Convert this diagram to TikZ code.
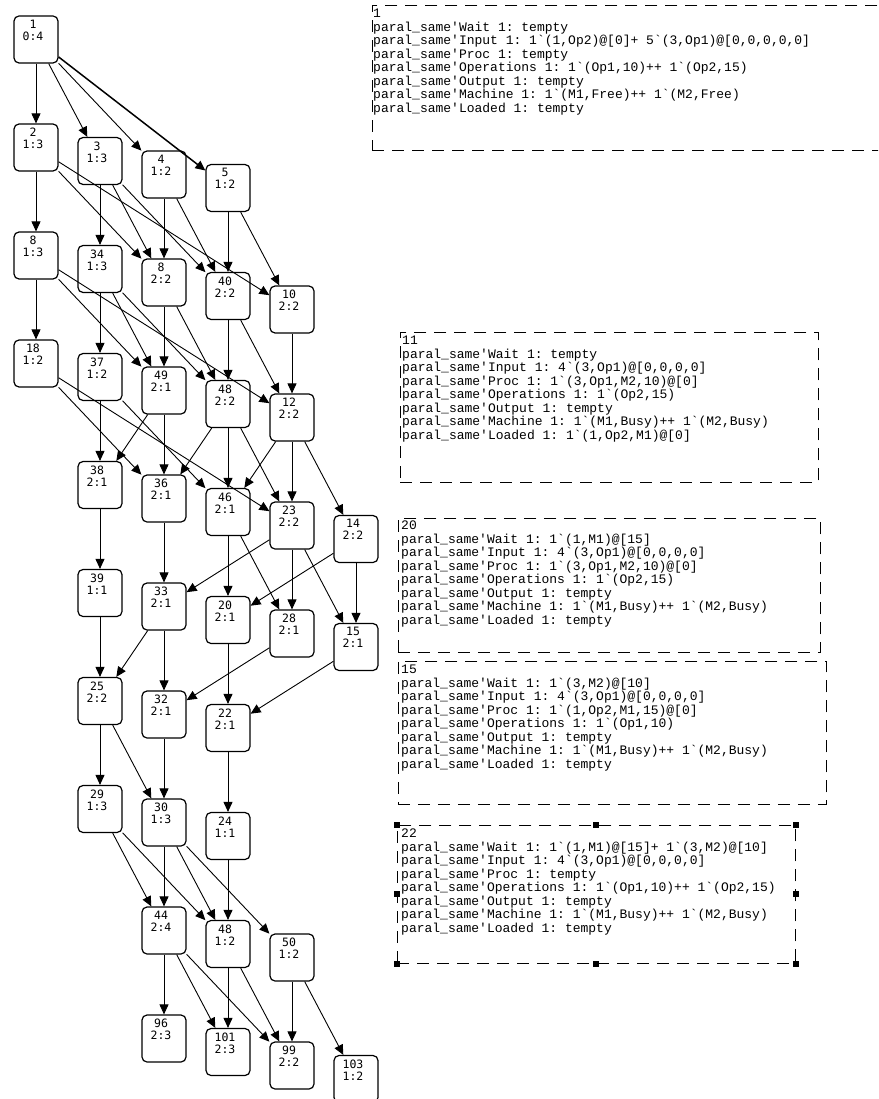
\documentclass[tikz,border=0pt]{standalone}
\usepackage{fontspec}
\setmonofont{Liberation Mono}
\newfontfamily\labfont{DejaVu Sans Mono}
\usetikzlibrary{arrows.meta}
\tikzset{
 st/.style={draw, line width=1.2pt, rounded corners=5pt, minimum width=44pt, minimum height=47pt, inner sep=0pt},
 lab/.style={anchor=north, xshift=-3pt, yshift=-4.5pt, align=center, inner sep=0pt, font=\labfont\fontsize{11.5}{12}\selectfont},
 ed/.style={-{Triangle[length=10pt,width=9pt]}, line width=0.9pt},
 infobox/.style={draw, dash pattern=on 12pt off 8pt, line width=0.9pt, anchor=north west, inner sep=0pt},
 infotext/.style={anchor=north west, align=left, inner sep=0pt, font=\ttfamily\fontsize{13}{13.5}\selectfont},
 handle/.style={fill=black, minimum size=6pt, inner sep=0pt}
}
\newcommand\stnode[5]{\node[st, label={[lab]north:{#4\\#5}}] (#1) at ({36+64*#2},{39.5+108*#3+13.5*#2}) {};}
\begin{document}
\begin{tikzpicture}[x=1pt,y=-1pt]
\useasboundingbox (0,0) rectangle (878,1099);
\clip (0,0) rectangle (878,1099);
% states: name, col, row, number, label
\stnode{n1}{0}{0}{1}{0:4}
\stnode{n2}{0}{1}{2}{1:3}
\stnode{n3}{1}{1}{3}{1:3}
\stnode{n4}{2}{1}{4}{1:2}
\stnode{n5}{3}{1}{5}{1:2}
\stnode{n8}{0}{2}{8}{1:3}
\stnode{n34}{1}{2}{34}{1:3}
\stnode{n6}{2}{2}{8}{2:2}
\stnode{n40}{3}{2}{40}{2:2}
\stnode{n10}{4}{2}{10}{2:2}
\stnode{n18}{0}{3}{18}{1:2}
\stnode{n37}{1}{3}{37}{1:2}
\stnode{n49}{2}{3}{49}{2:1}
\stnode{n48a}{3}{3}{48}{2:2}
\stnode{n12}{4}{3}{12}{2:2}
\stnode{n38}{1}{4}{38}{2:1}
\stnode{n36}{2}{4}{36}{2:1}
\stnode{n46}{3}{4}{46}{2:1}
\stnode{n23}{4}{4}{23}{2:2}
\stnode{n14}{5}{4}{14}{2:2}
\stnode{n39}{1}{5}{39}{1:1}
\stnode{n33}{2}{5}{33}{2:1}
\stnode{n20}{3}{5}{20}{2:1}
\stnode{n28}{4}{5}{28}{2:1}
\stnode{n15}{5}{5}{15}{2:1}
\stnode{n25}{1}{6}{25}{2:2}
\stnode{n32}{2}{6}{32}{2:1}
\stnode{n22}{3}{6}{22}{2:1}
\stnode{n29}{1}{7}{29}{1:3}
\stnode{n30}{2}{7}{30}{1:3}
\stnode{n24}{3}{7}{24}{1:1}
\stnode{n44}{2}{8}{44}{2:4}
\stnode{n48b}{3}{8}{48}{1:2}
\stnode{n50}{4}{8}{50}{1:2}
\stnode{n96}{2}{9}{96}{2:3}
\stnode{n101}{3}{9}{101}{2:3}
\stnode{n99}{4}{9}{99}{2:2}
\stnode{n103}{5}{9}{103}{1:2}
% arcs
\foreach \a/\b in {n1/n2,n1/n3,n1/n4,
 n2/n8,n2/n6,n2/n10,n3/n34,n3/n6,n3/n40,n4/n6,n4/n40,n5/n40,n5/n10,
 n8/n18,n8/n49,n8/n12,n34/n37,n34/n49,n34/n48a,n6/n49,n6/n48a,n40/n48a,n40/n12,n10/n12,
 n18/n36,n18/n23,n37/n38,n37/n46,n49/n38,n49/n36,n48a/n36,n48a/n46,n48a/n23,n12/n46,n12/n23,n12/n14,
 n38/n39,n36/n33,n46/n20,n46/n28,n23/n33,n23/n28,n23/n15,n14/n20,n14/n15,
 n39/n25,n33/n25,n33/n32,n20/n22,n28/n32,n15/n22,
 n25/n29,n25/n30,n32/n30,n22/n24,
 n29/n44,n29/n48b,n30/n44,n30/n48b,n30/n50,n24/n48b,
 n44/n96,n44/n101,n44/n99,n48b/n101,n48b/n99,n50/n99,n50/n103}
 {\draw[ed] (\a) -- (\b);}
\draw[ed, line width=1.5pt] (n1) -- (n5);
% info boxes
\node[infobox, minimum width=520pt, minimum height=145pt] (b1) at (372,5) {};
\node[infotext] (t1) at (373,9) {1\\
paral\_same'Wait 1: tempty\\
paral\_same'Input 1: 1`(1,Op2)@[0]+ 5`(3,Op1)@[0,0,0,0,0]\\
paral\_same'Proc 1: tempty\\
paral\_same'Operations 1: 1`(Op1,10)++ 1`(Op2,15)\\
paral\_same'Output 1: tempty\\
paral\_same'Machine 1: 1`(M1,Free)++ 1`(M2,Free)\\
paral\_same'Loaded 1: tempty};
\node[infobox, minimum width=418pt, minimum height=150pt] (b11) at (400,332) {};
\node[infotext] (t11) at (402,336) {11\\
paral\_same'Wait 1: tempty\\
paral\_same'Input 1: 4`(3,Op1)@[0,0,0,0]\\
paral\_same'Proc 1: 1`(3,Op1,M2,10)@[0]\\
paral\_same'Operations 1: 1`(Op2,15)\\
paral\_same'Output 1: tempty\\
paral\_same'Machine 1: 1`(M1,Busy)++ 1`(M2,Busy)\\
paral\_same'Loaded 1: 1`(1,Op2,M1)@[0]};
\node[infobox, minimum width=422pt, minimum height=134pt] (b20) at (398,518) {};
\node[infotext] (t20) at (401,521) {20\\
paral\_same'Wait 1: 1`(1,M1)@[15]\\
paral\_same'Input 1: 4`(3,Op1)@[0,0,0,0]\\
paral\_same'Proc 1: 1`(3,Op1,M2,10)@[0]\\
paral\_same'Operations 1: 1`(Op2,15)\\
paral\_same'Output 1: tempty\\
paral\_same'Machine 1: 1`(M1,Busy)++ 1`(M2,Busy)\\
paral\_same'Loaded 1: tempty};
\node[infobox, minimum width=428pt, minimum height=143pt] (b15) at (398,661) {};
\node[infotext] (t15) at (401,665) {15\\
paral\_same'Wait 1: 1`(3,M2)@[10]\\
paral\_same'Input 1: 4`(3,Op1)@[0,0,0,0]\\
paral\_same'Proc 1: 1`(1,Op2,M1,15)@[0]\\
paral\_same'Operations 1: 1`(Op1,10)\\
paral\_same'Output 1: tempty\\
paral\_same'Machine 1: 1`(M1,Busy)++ 1`(M2,Busy)\\
paral\_same'Loaded 1: tempty};
\node[infobox, minimum width=398pt, minimum height=138pt] (b22) at (397,825) {};
\node[infotext] (t22) at (401,829) {22\\
paral\_same'Wait 1: 1`(1,M1)@[15]+ 1`(3,M2)@[10]\\
paral\_same'Input 1: 4`(3,Op1)@[0,0,0,0]\\
paral\_same'Proc 1: tempty\\
paral\_same'Operations 1: 1`(Op1,10)++ 1`(Op2,15)\\
paral\_same'Output 1: tempty\\
paral\_same'Machine 1: 1`(M1,Busy)++ 1`(M2,Busy)\\
paral\_same'Loaded 1: tempty};
\foreach \an [count=\i] in {north west,north,north east,west,east,south west,south,south east}
 \node[handle] (h\i) at (b22.\an) {};
\end{tikzpicture}
\end{document}
